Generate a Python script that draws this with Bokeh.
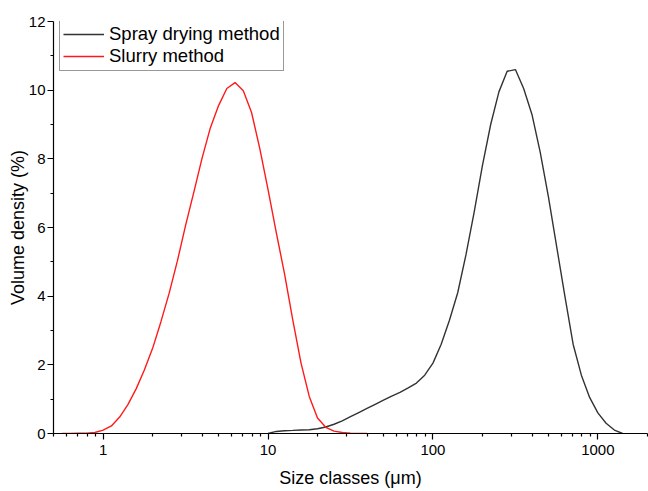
from bokeh.plotting import figure
from bokeh.models import FixedTicker, Range1d, Legend, LegendItem
from bokeh.embed import file_html
from bokeh.resources import INLINE

# Slurry method
slurry_size = [0.562, 0.631, 0.708, 0.794, 0.891, 1.000, 1.122, 1.259, 1.413, 1.585,
               1.778, 1.995, 2.239, 2.512, 2.818, 3.162, 3.548, 3.981, 4.467, 5.012,
               5.623, 6.310, 7.079, 7.943, 8.913, 10.00, 11.22, 12.59, 14.13, 15.85,
               17.78, 19.95, 22.39, 25.12, 28.18, 31.62, 35.48, 39.81]
slurry_vol = [0.0, 0.0, 0.01, 0.01, 0.03, 0.10, 0.22, 0.48, 0.84, 1.30,
              1.85, 2.48, 3.25, 4.08, 5.02, 6.06, 7.03, 8.02, 8.90, 9.55,
              10.05, 10.22, 9.98, 9.35, 8.30, 7.10, 5.85, 4.65, 3.30, 2.05,
              1.08, 0.45, 0.18, 0.07, 0.03, 0.01, 0.0, 0.0]

# Spray drying method
spray_size = [10.00, 11.22, 12.59, 14.13, 15.85, 17.78, 19.95, 22.39, 25.12, 28.18,
              31.62, 35.48, 39.81, 44.67, 50.12, 56.23, 63.10, 70.79, 79.43, 89.13,
              100.0, 112.2, 125.9, 141.3, 158.5, 177.8, 199.5, 223.9, 251.2, 281.8,
              316.2, 354.8, 398.1, 446.7, 501.2, 562.3, 631.0, 707.9, 794.3, 891.3,
              1000.0, 1122.0, 1259.0, 1413.0]
spray_vol = [0.0, 0.06, 0.08, 0.09, 0.10, 0.11, 0.14, 0.19, 0.27, 0.37,
             0.49, 0.61, 0.73, 0.85, 0.97, 1.09, 1.20, 1.33, 1.47, 1.70,
             2.05, 2.60, 3.30, 4.10, 5.20, 6.45, 7.80, 9.00, 9.95, 10.55,
             10.60, 10.05, 9.30, 8.20, 6.90, 5.45, 4.00, 2.60, 1.70, 1.05,
             0.60, 0.30, 0.10, 0.0]

x_major = [1, 10, 100, 1000]
x_minor = [0.5, 0.6, 0.7, 0.8, 0.9, 2, 3, 4, 5, 6, 7, 8, 9, 20, 30, 40, 50, 60, 70, 80, 90,
           200, 300, 400, 500, 600, 700, 800, 900, 2000]
y_major = [0, 2, 4, 6, 8, 10, 12]
y_minor = [1, 3, 5, 7, 9, 11]

FONT = "Liberation Sans"

p = figure(width=648, height=491, x_axis_type="log",
           x_range=Range1d(0.5, 2000), y_range=Range1d(0, 12),
           output_backend="svg", toolbar_location=None,
           min_border_left=53, min_border_right=1, min_border_top=21, min_border_bottom=58)
p.outline_line_color = None
p.xgrid.visible = False
p.ygrid.visible = False
p.background_fill_color = "white"
p.border_fill_color = "white"

r1 = p.line(spray_size, spray_vol, line_color="#333333", line_width=1.4)
r2 = p.line(slurry_size, slurry_vol, line_color="#ff1a1a", line_width=1.4)

for ax in (p.xaxis[0], p.yaxis[0]):
    ax.axis_line_color = "black"
    ax.axis_line_width = 1.2
    ax.major_tick_line_color = "black"
    ax.minor_tick_line_color = "black"
    ax.major_tick_line_width = 1.2
    ax.minor_tick_line_width = 1.2
    ax.major_tick_in = 0
    ax.major_tick_out = 6
    ax.minor_tick_in = 0
    ax.minor_tick_out = 3
    ax.major_label_text_font = FONT
    ax.major_label_text_font_size = "15px"
    ax.major_label_text_color = "black"
    ax.axis_label_text_font = FONT
    ax.axis_label_text_font_size = "18px"
    ax.axis_label_text_font_style = "normal"
    ax.axis_label_text_color = "black"

p.xaxis.ticker = FixedTicker(ticks=x_major, minor_ticks=x_minor)
p.xaxis.major_label_overrides = {1: "1", 10: "10", 100: "100", 1000: "1000"}
p.yaxis.ticker = FixedTicker(ticks=y_major, minor_ticks=y_minor)
p.xaxis.axis_label = "Size classes (\u03bcm)"
p.yaxis.axis_label = "Volume density (%)"
p.xaxis.major_label_standoff = 5
p.yaxis.major_label_standoff = 2
p.xaxis.axis_label_standoff = 10
p.yaxis.axis_label_standoff = -2

legend = Legend(items=[LegendItem(label="Spray drying method", renderers=[r1]),
                       LegendItem(label="Slurry method", renderers=[r2])],
                location=(6, 362))
legend.label_text_font = FONT
legend.label_text_font_size = "18.5px"
legend.label_text_color = "black"
legend.border_line_color = "#333333"
legend.border_line_width = 1
legend.background_fill_alpha = 1
legend.padding = 3
legend.spacing = 0
legend.margin = 0
legend.glyph_width = 41
legend.glyph_height = 22
legend.label_height = 22
legend.label_standoff = 5
p.add_layout(legend)

open("out.html", "w").write(file_html(p, INLINE))
